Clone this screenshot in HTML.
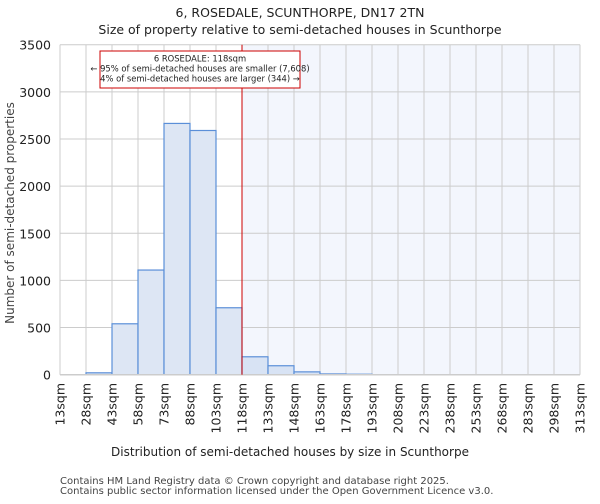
<!DOCTYPE html>
<html><head><meta charset="utf-8"><style>
body{margin:0;background:#fff;font-family:"DejaVu Sans","Liberation Sans",sans-serif}
text{font-family:"DejaVu Sans","Liberation Sans",sans-serif}
</style></head><body>
<svg id="c" width="600" height="500" xmlns="http://www.w3.org/2000/svg">
<text x="300" y="17" text-anchor="middle" font-size="12.5" fill="#222">6, ROSEDALE, SCUNTHORPE, DN17 2TN</text>
<text x="300" y="34" text-anchor="middle" font-size="12.5" fill="#222">Size of property relative to semi-detached houses in Scunthorpe</text>
<g id="plot"></g>
<text x="290" y="456" text-anchor="middle" font-size="12" fill="#222">Distribution of semi-detached houses by size in Scunthorpe</text>
<text x="14" y="213" text-anchor="middle" font-size="12" fill="#444" transform="rotate(-90 14 213)">Number of semi-detached properties</text>
<text x="60" y="484" font-size="10" fill="#444">Contains HM Land Registry data © Crown copyright and database right 2025.</text>
<text x="60" y="494" font-size="10" fill="#444">Contains public sector information licensed under the Open Government Licence v3.0.</text>
</svg>
<script>
const binStarts=[13,28,43,58,73,88,103,118,133,148,163,178,193,208,223,238,253,268,283,298];
const counts=[0,20,540,1110,2665,2590,710,190,95,30,8,5,0,0,0,0,0,0,0,0];
const xTickLabels=["13sqm","28sqm","43sqm","58sqm","73sqm","88sqm","103sqm","118sqm","133sqm","148sqm","163sqm","178sqm","193sqm","208sqm","223sqm","238sqm","253sqm","268sqm","283sqm","298sqm","313sqm"];
const yTicks=[0,500,1000,1500,2000,2500,3000,3500];
const propertySize=118;
const NS="http://www.w3.org/2000/svg";
const L=60,R=580,T=44.7,B=374.7,x0=13,x1=313,yMax=3500;
const X=v=>L+(v-x0)/(x1-x0)*(R-L);
const Y=v=>B-v/yMax*(B-T);
const g=document.getElementById('plot');
function mk(t,a){const e=document.createElementNS(NS,t);for(const k in a)e.setAttribute(k,a[k]);g.appendChild(e);return e;}
let e;
e=mk('rect',{x:X(propertySize),y:T,width:R-X(propertySize),height:B-T,fill:'#f3f6fd'});


yTicks.forEach(v=>{
 e=mk('line',{x1:L,x2:R,y1:Y(v),y2:Y(v),stroke:'#cccccc','stroke-width':1});
 
 
 e=mk('text',{x:L-9,y:Y(v)+5,'text-anchor':'end','font-size':12.5,fill:'#222'});e.textContent=v;
 
 
});
xTickLabels.forEach((s,i)=>{
 const v=x0+i*15,x=X(v);
 e=mk('line',{x1:x,x2:x,y1:T,y2:B,stroke:'#cccccc','stroke-width':1});
 
 
 e=mk('text',{x:x+4.5,y:383,'text-anchor':'end','font-size':12.5,fill:'#222',transform:`rotate(-90 ${x+4.5} 383)`});e.textContent=s;
 
 
});
counts.forEach((c,i)=>{
 if(c<=0)return;
 const a=X(binStarts[i]),b=X(binStarts[i]+15);
 e=mk('rect',{x:a,y:Y(c),width:b-a,height:B-Y(c),fill:binStarts[i]>=propertySize?'#d8e3f4':'#dde6f4',stroke:'#5b8fd8','stroke-width':1.2});
 
 
});
e=mk('line',{x1:L,x2:R,y1:B,y2:B,stroke:'#cccccc','stroke-width':1.5});


e=mk('line',{x1:X(propertySize),x2:X(propertySize),y1:T,y2:B,stroke:'#cc0000','stroke-width':1});


e=mk('rect',{x:100,y:51,width:200,height:37,fill:'#fff',stroke:'#cc0000','stroke-width':1});


["6 ROSEDALE: 118sqm","← 95% of semi-detached houses are smaller (7,608)","4% of semi-detached houses are larger (344) →"].forEach((s,i)=>{
 e=mk('text',{x:200,y:61.5+i*10,'text-anchor':'middle','font-size':8.4,fill:'#222'});e.textContent=s;
 
 
});
</script>
</body></html>
